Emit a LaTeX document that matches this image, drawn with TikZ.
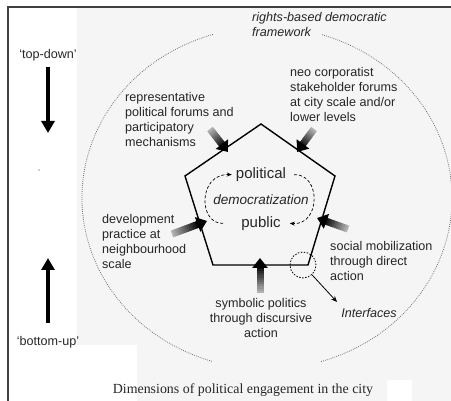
\documentclass[tikz,border=0pt]{standalone}
\usepackage{fontspec}
\setmainfont{Liberation Sans}
\newfontfamily\capserif{Liberation Serif}
\usepackage{tikz}
\usetikzlibrary{arrows.meta, calc, positioning}
\tikzstyle{lbl} = [inner sep=0pt, align=left, text=black!85, font=\fontsize{12.6}{15}\selectfont]
\tikzstyle{lbli} = [lbl, font=\fontsize{12.6}{15}\selectfont\itshape]
\tikzstyle{core} = [inner sep=0pt, text=black!85, font=\fontsize{15}{18}\selectfont]
\tikzstyle{edgeline} = [line width=1.4pt, black]
\tikzstyle{frame} = [black!55, line width=0.8pt, dash pattern=on 0.8pt off 1.2pt]
\tikzstyle{cyc} = [line width=0.7pt, dash pattern=on 3pt off 2pt, -{Stealth[length=5pt,width=4pt]}]
\tikzstyle{ring} = [circle, draw, line width=0.8pt, dash pattern=on 1.5pt off 1.5pt, minimum size=26pt, inner sep=0pt]
\tikzstyle{ptr} = [line width=0.8pt, -{Stealth[length=6pt,width=5pt]}]
\tikzstyle{vert} = [line width=4.5pt, -{Triangle[width=13pt,length=12pt]}]
\newcommand{\fatarrow}[2]{%
  \foreach \i in {0,...,11}{%
    \pgfmathtruncatemacro{\dk}{30+6*\i}%
    \draw[line width=7pt, black!\dk] ($(#1)!\i/16!(#2)$) -- ($(#1)!\i/16+0.1!(#2)$);
  }%
  \draw[line width=7pt, -{Triangle[width=15pt,length=10pt]}] ($(#1)!0.72!(#2)$) -- (#2);
}

\begin{document}
\begin{tikzpicture}[x=1pt, y=-1pt]
\useasboundingbox (0,0) rectangle (451,401);
% page background and frame
\fill[black!4] (77,8) -- (451,8) -- (451,401) -- (412,401) -- (412,380) -- (387,380) -- (387,401) -- (137,401) -- (137,345) -- (77,345) -- cycle;
\draw[line width=1.4pt, black!75] (8,401) -- (8,7) -- (451,7);

% outer framework
\coordinate (c) at (267,198);
\draw[frame] (c) ++(-107:185 and 171) arc[start angle=-107, end angle=-253, x radius=185, y radius=171];
\draw[frame] (c) ++(73:185 and 171) arc[start angle=73, end angle=-73, x radius=185, y radius=171];
\node[lbli, anchor=west] (rbf) at (252,24.5) {rights-based democratic\\framework};

% pentagon
\coordinate (pA) at (261,124);
\coordinate (pB) at (335,176);
\coordinate (pC) at (308,265);
\coordinate (pD) at (213,265);
\coordinate (pE) at (185,176);
\draw[edgeline] (pA) -- (pB) -- (pC) -- (pD) -- (pE) -- cycle;

% inputs
\coordinate (t1) at (210,129); \coordinate (h1) at (228,152);
\coordinate (t2) at (314,129); \coordinate (h2) at (297,152);
\coordinate (t3) at (172,234); \coordinate (h3) at (207,221);
\coordinate (t4) at (348,229); \coordinate (h4) at (317,218);
\coordinate (t5) at (260,293); \coordinate (h5) at (260,258);
\foreach \n in {1,...,5} \fatarrow{t\n}{h\n};

\node[lbl, anchor=west] (neo) at (290,94) {neo corporatist\\stakeholder forums\\at city scale and/or\\lower levels};
\node[lbl, anchor=west] (rep) at (125,119) {representative\\political forums and\\participatory\\mechanisms};
\node[lbl, anchor=west] (dev) at (102,241) {development\\practice at\\neighbourhood\\scale};
\node[lbl, anchor=west] (soc) at (330,261) {social mobilization\\through direct\\action};
\node[lbl, align=center] (sym) at (261,318) {symbolic politics\\through discursive\\action};

% centre
\node[core, font=\fontsize{13.5}{16}\selectfont\itshape] (dem) at (261,200) {democratization};
\node[core, above=13pt of dem] (pol) {political};
\node[core, below=11pt of dem] (pub) {public};
\draw[cyc] ([xshift=-18pt]pub.west) .. controls +(-25,1) and +(-34,-1) .. ([xshift=-4pt]pol.west);
\draw[cyc] ([xshift=8pt]pol.east) .. controls +(27,-1) and +(31,2) .. ([xshift=9pt]pub.east);

% interfaces
\node[ring] (ifc) at (303,265) {};
\coordinate (ift) at (337,302);
\draw[ptr] (ifc) -- (ift);
\node[lbli] (ifl) at (369,313) {Interfaces};

% top-down / bottom-up
\node[lbl] (td) at (48,55) {`top-down'};
\coordinate (tdend) at (48,133);
\draw[vert, shorten <=6pt] (td) -- (tdend);
\fill[black!40] (39,170) circle (0.9);
\node[lbl] (bu) at (48,342) {`bottom-up'};
\coordinate (buend) at (48,258);
\draw[vert, shorten <=13pt] (bu) -- (buend);

\node[inner sep=0pt, text=black!85, font=\capserif\fontsize{13.9}{16}\selectfont] (cap) at (243,390) {Dimensions of political engagement in the city};
\end{tikzpicture}
\end{document}
